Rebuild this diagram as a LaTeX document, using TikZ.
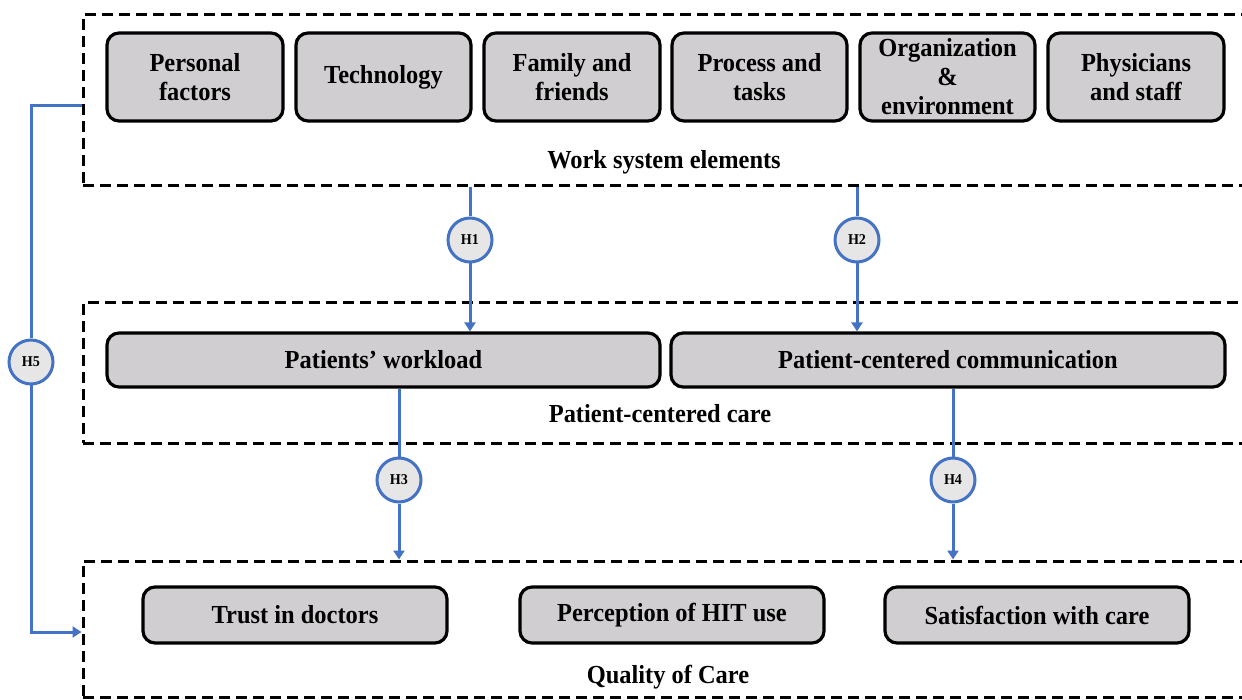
\documentclass[tikz,border=0pt]{standalone}
\usepackage{fontspec}
\setmainfont{Liberation Serif}[FakeStretch=0.94]
\usetikzlibrary{arrows.meta,calc}
\definecolor{boxgray}{RGB}{208,206,208}
\definecolor{hfill}{RGB}{230,230,230}
\definecolor{linkblue}{RGB}{68,114,196}
\begin{document}
\begin{tikzpicture}[x=1pt,y=-1pt,
  element/.style={draw=black, line width=3.2pt, fill=boxgray, rounded corners=12pt,
    align=center, inner sep=0pt, font=\bfseries\fontsize{26}{29}\selectfont},
  group/.style={draw=black, line width=3pt, dash pattern=on 11pt off 6pt, inner sep=0pt},
  grouplabel/.style={inner sep=0pt, font=\bfseries\fontsize{26}{29}\selectfont},
  hyp/.style={circle, draw=linkblue, line width=3pt, fill=hfill, minimum size=44pt,
    inner sep=0pt, font=\bfseries\fontsize{15}{15}\selectfont},
  link/.style={draw=linkblue, line width=3pt},
  tip/.style={-{Triangle[length=9pt,width=11pt]}}
]
\useasboundingbox (0,0) rectangle (1242,700);
\clip (0,0) rectangle (1242,700);

% dashed groups
\node[group, minimum width=1179pt, minimum height=171pt] (wse) at (672.5,100.5) {};
\node[group, minimum width=1179pt, minimum height=140pt] (pcc) at (672.5,373) {};
\node[group, minimum width=1179pt, minimum height=136pt] (qoc) at (672.5,629) {};

% work system elements
\node[element, minimum width=176pt, minimum height=88pt] (pf)   at (195,77)    {Personal\\factors};
\node[element, minimum width=175pt, minimum height=88pt] (tech) at (383.5,77)  {Technology};
\node[element, minimum width=176pt, minimum height=88pt] (fam)  at (572,77)    {Family and\\friends};
\node[element, minimum width=175pt, minimum height=88pt] (proc) at (759.5,77)  {Process and\\tasks};
\node[element, minimum width=175pt, minimum height=88pt] (org)  at (947.5,77)  {Organization\\\&\\environment};
\node[element, minimum width=176pt, minimum height=88pt] (phys) at (1136,77)   {Physicians\\and staff};
\node[grouplabel] (wsel) at (664,162) {Work system elements};

% patient-centered care
\node[element, minimum width=553pt, minimum height=54pt] (pw)   at (383.5,360) {Patients’ workload};
\node[element, minimum width=554pt, minimum height=54pt] (pcom) at (948,360)   {Patient-centered communication};
\node[grouplabel] (pccl) at (660,414) {Patient-centered care};

% quality of care
\node[element, minimum width=304pt, minimum height=56pt] (trust) at (295,615)  {Trust in doctors};
\node[element, minimum width=304pt, minimum height=56pt] (hit)   at (672,615)  {Perception of HIT use};
\node[element, minimum width=304pt, minimum height=56pt] (sat)   at (1037,615) {Satisfaction with care};
\node[grouplabel] (qocl) at (668,677) {Quality of Care};

% hypotheses
\node[hyp] (h1) at (470,240) {H1};
\node[hyp] (h2) at (857,240) {H2};
\node[hyp] (h3) at (399,480) {H3};
\node[hyp] (h4) at (953,480) {H4};
\node[hyp] (h5) at (31,362)  {H5};

\draw[link] (h1 |- wse.south) -- (h1);
\draw[link,tip] (h1) -- (h1 |- pw.north);
\draw[link] (h2 |- wse.south) -- (h2);
\draw[link,tip] (h2) -- (h2 |- pcom.north);
\draw[link] (h3 |- pw.south) -- (h3);
\draw[link,tip] (h3) -- (h3 |- qoc.north);
\draw[link] (h4 |- pcom.south) -- (h4);
\draw[link,tip] (h4) -- (h4 |- qoc.north);
\draw[link] ([yshift=-5.5pt]wse.west) -| (h5.north);
\draw[link,tip] (h5.south) |- ([yshift=-3pt]qoc.west);
\end{tikzpicture}
\end{document}
